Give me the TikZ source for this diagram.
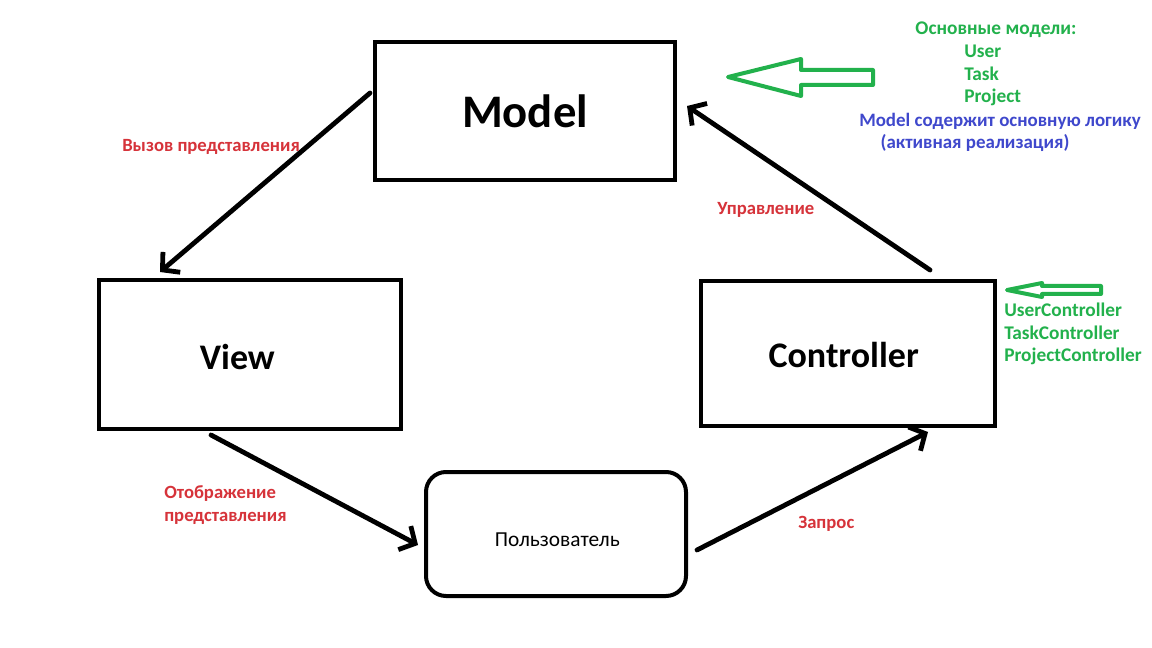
\documentclass[tikz,border=0pt]{standalone}
\usepackage{fontspec}
\setmainfont{Carlito}
\usetikzlibrary{arrows.meta}
\definecolor{lred}{HTML}{D6333A}
\definecolor{lgreen}{HTML}{22B14C}
\definecolor{lblue}{HTML}{3F48CC}
\begin{document}
\begin{tikzpicture}[x=0.75pt,y=-0.75pt,
  box/.style={draw=black, line width=3pt, inner sep=0pt, font=\bfseries},
  conn/.style={line width=3.6pt, line cap=round, -{Straight Barb[length=9pt,width=20pt,line width=3.6pt]}},
  redlbl/.style={text=lred, font=\bfseries\fontsize{14}{17.25}\selectfont, inner sep=0pt},
  grnlbl/.style={text=lgreen, font=\bfseries\fontsize{14.5}{17.25}\selectfont, inner sep=0pt},
  blulbl/.style={text=lblue, font=\bfseries\fontsize{14.2}{17.25}\selectfont, inner sep=0pt},
  hollow/.style={draw=lgreen, line width=3pt, line join=round}]
\useasboundingbox (0,0) rectangle (1152,648);
\fill[white] (0,0) rectangle (1152,648);

% boxes
\node[box, minimum width=225pt, minimum height=103.5pt, font=\bfseries\fontsize{35}{40}\selectfont] (model) at (525,111) {Model};
\node[box, minimum width=226.5pt, minimum height=111.75pt, font=\bfseries\fontsize{27}{32}\selectfont] (view) at (250,354.5) {\raisebox{-2pt}[\height][\depth]{View}\kern19pt};
\node[box, minimum width=220.5pt, minimum height=108.75pt, font=\bfseries\fontsize{27}{32}\selectfont] (ctrl) at (848,353.5) {\raisebox{-1.5pt}[\height][\depth]{Controller}\kern6.5pt};
\node[box, rounded corners=15pt, minimum width=195pt, minimum height=93pt, font=\fontsize{16}{19}\selectfont] (user) at (556,534) {\raisebox{-4pt}[\height][\depth]{Пользователь}\kern-2pt};

% connector endpoints
\coordinate (mv1) at (370,93);
\coordinate (mv2) at (160,272);
\coordinate (vu1) at (211,435);
\coordinate (vu2) at (418,545);
\coordinate (uc1) at (697,550);
\coordinate (uc2) at (928,432);
\coordinate (cm1) at (930,270);
\coordinate (cm2) at (687,106);

\draw[conn] (mv1) -- (mv2);
\draw[conn] (vu1) -- (vu2);
\draw[conn] (uc1) -- (uc2);
\draw[conn] (cm1) -- (cm2);

% red labels
\node[redlbl, anchor=west] (l1) at (122,147) {Вызов представления};
\node[redlbl, anchor=west] (l2) at (717,210) {Управление};
\node[redlbl, anchor=west, align=left] (l3) at (164,505) {Отображение\\представления};
\node[redlbl, anchor=west] (l4) at (798,524) {Запрос};

% green notes
\node[grnlbl] (g0) at (996,30) {Основные модели:};
\node[grnlbl, anchor=west] (g1) at (964,51) {User};
\node[grnlbl, anchor=west] (g2) at (964,74) {Task};
\node[grnlbl, anchor=west] (g3) at (964,97) {Project};
\node[blulbl] (b1) at (1000,121) {Model содержит основную логику};
\node[blulbl] (b2) at (975,143) {(активная реализация)};

\node[grnlbl, anchor=west] (c1) at (1004,310) {UserController};
\node[grnlbl, anchor=west] (c2) at (1004,333) {TaskController};
\node[grnlbl, anchor=west] (c3) at (1004,356) {ProjectController};

% hollow green arrows
\draw[hollow] (728,77) -- (801,59) -- (801,70) -- (873,70) -- (873,85) -- (801,85) -- (801,96) -- cycle;
\draw[hollow] (1007,290) -- (1042,283) -- (1042,286) -- (1101,286) -- (1101,294) -- (1042,294) -- (1042,297) -- cycle;
\end{tikzpicture}
\end{document}
